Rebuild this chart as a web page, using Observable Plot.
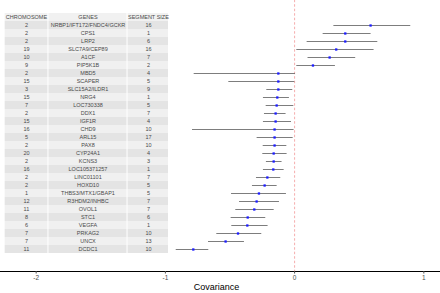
<!DOCTYPE html>
<html>
<head>
<meta charset="utf-8">
<script src="https://cdn.jsdelivr.net/npm/d3@7"></script>
<script src="https://cdn.jsdelivr.net/npm/@observablehq/plot@0.6"></script>
<style>
  html, body { margin: 0; padding: 0; background: #fff; }
  #chart svg { display: block; }
</style>
</head>
<body>
<div id="chart"></div>
<script>
const chromosome = [2,2,2,19,10,9,2,15,3,15,7,2,15,16,5,2,20,2,16,2,2,1,12,11,8,6,7,7,11];
const genes = ["NRBP1/IFT172/FNDC4/GCKR","CPS1","LRP2","SLC7A9/CEP89","A1CF","PIP5K1B","MBD5","SCAPER","SLC15A2/ILDR1","NRG4","LOC730338","DDX1","IGF1R","CHD9","ARL15","PAX8","CYP24A1","KCNS3","LOC105371257","LINC01101","HOXD10","THBS3/MTX1/GBAP1","R3HDM2/INHBC","OVOL1","STC1","VEGFA","PRKAG2","UNCX","DCDC1"];
const segmentSize = [16,1,6,16,7,2,4,5,9,1,5,7,4,10,17,10,4,3,1,7,5,5,7,7,6,1,10,13,10];
const covariance = [0.588,0.392,0.392,0.322,0.271,0.142,-0.126,-0.126,-0.126,-0.134,-0.139,-0.147,-0.147,-0.155,-0.155,-0.155,-0.162,-0.162,-0.165,-0.211,-0.232,-0.276,-0.294,-0.312,-0.363,-0.366,-0.438,-0.534,-0.784];
const lower = [0.30,0.217,0.093,0.013,0.10,0.013,-0.781,-0.513,-0.219,-0.245,-0.224,-0.237,-0.245,-0.794,-0.294,-0.247,-0.25,-0.222,-0.245,-0.299,-0.33,-0.492,-0.43,-0.459,-0.495,-0.49,-0.606,-0.67,-0.92];
const upper = [0.895,0.588,0.64,0.611,0.469,0.312,0.003,-0.002,-0.018,-0.044,-0.01,-0.07,-0.028,-0.008,-0.015,-0.064,-0.062,-0.101,-0.085,-0.111,-0.139,-0.067,-0.121,-0.162,-0.227,-0.209,-0.258,-0.392,-0.668];
const headers = ["CHROMOSOME","GENES","SEGMENT SIZE"];
const xTicks = [-2,-1,0,1];

const rows = genes.map((g, i) => ({
  gene: g, chromosome: chromosome[i], size: segmentSize[i],
  cov: covariance[i], lo: lower[i], hi: upper[i], i
}));

// table column layout, expressed in the x (covariance) units of the plot
const cols = [
  {x1: -2.240, x2: -1.909, c: -2.075, key: "chromosome"},
  {x1: -1.901, x2: -1.297, c: -1.599, key: "gene"},
  {x1: -1.289, x2: -0.976, c: -1.131, key: "size"}
];
const HEAD = "__header__", PAD = "__pad__";
const cells = [];
rows.forEach(r => cols.forEach(c => cells.push({y: r.gene, x1: c.x1, x2: c.x2, xc: c.c, text: String(r[c.key]), fill: r.i % 2 === 0 ? "#e4e4e4" : "#f0f0f0"})));
const headCells = cols.map((c, j) => ({y: HEAD, x1: c.x1, x2: c.x2, xc: c.c, text: headers[j], fill: "#f1f1f1"}));

const font = "'Liberation Sans', Arial, Helvetica, sans-serif";

const chart = Plot.plot({
  width: 440,
  height: 293,
  marginLeft: 0,
  marginRight: 0,
  marginTop: 2.7,
  marginBottom: 22,
  style: {fontFamily: font, background: "#fff", overflow: "visible"},
  x: {domain: [-2.276, 1.129]},
  y: {type: "band", domain: [HEAD, ...genes, PAD], padding: 0, axis: null},
  marks: [
    // table
    Plot.rect(headCells.concat(cells), {x1: "x1", x2: "x2", y: "y", fill: "fill"}),
    Plot.text(headCells.concat(cells), {x: "xc", y: "y", text: "text", fontSize: 5.5, fill: "#4a4a4a"}),
    // zero line
    Plot.ruleX([0], {stroke: "#f08a8a", strokeWidth: 0.7, strokeDasharray: "2.5,2", insetTop: -3}),
    // intervals and estimates
    Plot.link(rows, {x1: "lo", x2: "hi", y1: "gene", y2: "gene", stroke: "#6e6e6e", strokeWidth: 0.9}),
    Plot.dot(rows, {x: "cov", y: "gene", symbol: "square", r: 1.3, fill: "#1a1aff", stroke: "none"}),
    // axis
    Plot.frame({anchor: "bottom", stroke: "#000", strokeWidth: 1.1}),
    Plot.axisX({ticks: xTicks, tickSize: 2.5, tickPadding: 1.5, tickFormat: d => String(d), fontSize: 6.5, color: "#4d4d4d", label: null}),
    Plot.text(["Covariance"], {frameAnchor: "bottom", dy: 16, dx: -4, fontSize: 9, fill: "#000", lineAnchor: "middle"})
  ]
});
document.getElementById("chart").appendChild(chart);
</script>
</body>
</html>
